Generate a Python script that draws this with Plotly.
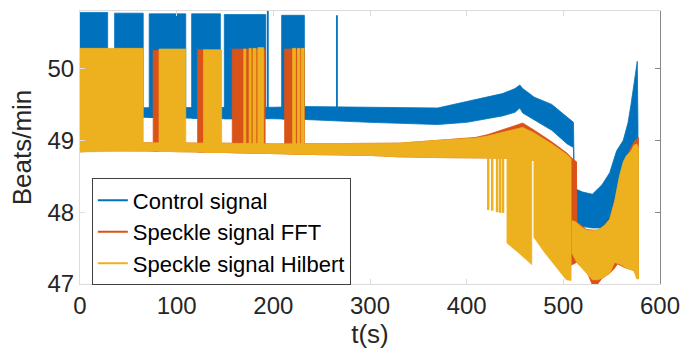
import plotly.graph_objects as go

BLUE = '#0072BD'
ORANGE = '#D95319'
YELLOW = '#EDB120'

# ---------------- data ----------------
x_ticks = [0, 100, 200, 300, 400, 500, 600]
y_ticks = [47, 48, 49, 50]
series_names = ['Control signal', 'Speckle signal FFT', 'Speckle signal Hilbert']

# Control signal: continuous band (time, lower envelope, upper envelope)
blue_t = [0, 65, 110, 150, 200, 232.1, 300, 370, 400, 437, 450, 455, 458, 470, 488, 504, 510.5,
          511.5, 520, 530, 540, 548, 555, 562, 567, 570, 573, 575, 576.5, 577.2]
blue_hi = [49.45, 49.45, 49.45, 49.46, 49.46, 49.47, 49.46, 49.45, 49.54, 49.65, 49.72, 49.77, 49.72, 49.60, 49.50, 49.33, 49.25,
           48.33, 48.28, 48.25, 48.38, 48.55, 48.85, 49.00, 49.25, 49.50, 49.80, 50.00, 50.10, 49.20]
blue_lo = [49.32, 49.32, 49.31, 49.30, 49.30, 49.29, 49.25, 49.22, 49.25, 49.34, 49.39, 49.45, 49.38, 49.28, 49.14, 48.95, 48.90,
           47.85, 47.80, 47.78, 47.78, 47.85, 47.95, 48.10, 48.25, 48.35, 48.45, 48.55, 48.60, 48.60]
# Control signal: high-oscillation blocks (start, end, top)
blue_blk_start = [0, 35.8, 71.6, 115.5, 149.3, 208.6]
blue_blk_end = [28.6, 65.4, 109.4, 145.2, 192.2, 232.1]
blue_blk_top = [50.78, 50.77, 50.76, 50.76, 50.75, 50.74]
# Control signal: isolated spikes (time, peak)
blue_spk_t = [194.3, 265.8]
blue_spk_top = [50.80, 50.74]

# Speckle FFT: band
fft_t = [0, 30, 65, 110, 150, 200, 250, 300, 330, 370, 409, 422, 440, 455, 458, 470, 488, 504, 508, 513.5]
fft_hi = [48.97, 48.97, 48.97, 48.96, 48.96, 48.95, 48.95, 48.95, 48.96, 49.00, 49.04, 49.08, 49.16, 49.22, 49.24, 49.14, 48.98, 48.82, 48.76, 48.70]
fft_lo = [48.84, 48.86, 48.85, 48.84, 48.83, 48.82, 48.80, 48.79, 48.77, 48.76, 48.76, 48.76, 48.75, 48.75, 48.75, 48.72, 48.70, 48.68, 47.80, 47.80]
# Speckle FFT: high blocks
fft_blk_start = [75.7, 121.7, 157.5, 211.7]
fft_blk_end = [81.8, 127.8, 191.5, 232.1]
fft_blk_top = [50.25, 50.26, 50.27, 50.27]
# Speckle FFT: deep section of the final dip
fft_dip_t = [508, 513.5, 514, 524, 530, 535, 540, 548, 553, 556, 565, 573, 577.7]
fft_dip_hi = [48.74, 48.70, 47.86, 47.76, 47.75, 47.75, 47.78, 47.90, 48.15, 48.30, 48.75, 48.98, 49.04]
fft_dip_lo = [47.26, 47.30, 47.30, 47.18, 46.99, 46.99, 47.08, 47.15, 47.22, 47.28, 47.22, 47.19, 47.08]

# Speckle Hilbert: band
hil_t = [0, 30, 65, 110, 150, 200, 250, 300, 330, 370, 409, 422, 440, 455, 458, 470, 488, 504, 508]
hil_hi = [48.97, 48.97, 48.97, 48.96, 48.96, 48.95, 48.95, 48.95, 48.96, 49.00, 49.03, 49.06, 49.12, 49.17, 49.18, 49.10, 48.95, 48.80, 48.74]
hil_lo = [48.84, 48.86, 48.85, 48.84, 48.83, 48.82, 48.80, 48.79, 48.77, 48.76, 48.76, 48.76, 48.75, 48.75, 48.75, 48.72, 48.70, 48.68, 48.66]
# Speckle Hilbert: high blocks
hil_blk_start = [0, 81.8, 127.8, 169.5, 175, 179, 184, 220, 225, 229]
hil_blk_end = [65.4, 109.4, 146.5, 171.5, 177, 182, 190, 223, 227.5, 231.8]
hil_blk_top = [50.28, 50.27, 50.26, 50.27, 50.28, 50.28, 50.29, 50.28, 50.28, 50.28]
# Speckle Hilbert: downward stripes
hil_str_t = [422.3, 426.4, 431.5, 434.6, 437.6]
hil_str_lo = [48.03, 48.02, 48.00, 47.99, 47.99]
# Speckle Hilbert: deep sections (lower envelopes)
hil_d1_t = [441.7, 455, 467.3]
hil_d1_lo = [47.57, 47.42, 47.27]
hil_d2_t = [469.6, 480, 490, 503, 508]
hil_d2_lo = [47.65, 47.45, 47.28, 47.06, 47.05]
hil_d3_t = [509, 512, 514, 520, 524, 530, 536, 543, 548, 553, 558, 562, 565, 570, 573, 576, 577.7]
hil_d3_hi = [47.88, 47.87, 47.85, 47.78, 47.75, 47.74, 47.75, 47.82, 47.90, 48.15, 48.50, 48.70, 48.78, 48.85, 48.93, 48.95, 48.90]
hil_d3_lo = [47.43, 47.35, 47.30, 47.22, 47.15, 47.06, 47.06, 47.10, 47.15, 47.30, 47.28, 47.25, 47.22, 47.20, 47.18, 47.07, 47.07]


def interp(t, ts, vs):
    for i in range(len(ts) - 1):
        if ts[i] <= t <= ts[i + 1]:
            f = (t - ts[i]) / (ts[i + 1] - ts[i])
            return vs[i] + f * (vs[i + 1] - vs[i])
    return vs[-1]


def band(t, lo, hi, color):
    x = list(t) + list(t)[::-1] + [t[0]]
    y = list(hi) + list(lo)[::-1] + [hi[0]]
    return go.Scatter(x=x, y=y, mode='lines', fill='toself', fillcolor=color,
                      line=dict(color=color, width=0.8), hoverinfo='skip', showlegend=False)


def blocks(starts, ends, tops, base_t, base_lo, color):
    xs, ys = [], []
    for s, e, top in zip(starts, ends, tops):
        b1 = interp(s, base_t, base_lo)
        b2 = interp(e, base_t, base_lo)
        xs += [s, s, e, e, s, None]
        ys += [b1, top, top, b2, b1, None]
    return go.Scatter(x=xs, y=ys, mode='lines', fill='toself', fillcolor=color,
                      line=dict(color=color, width=0.8), hoverinfo='skip', showlegend=False)


def spikes(ts, ends, base_t, base_v, color, width):
    xs, ys = [], []
    for t, e in zip(ts, ends):
        xs += [t, t, None]
        ys += [interp(t, base_t, base_v), e, None]
    return go.Scatter(x=xs, y=ys, mode='lines', line=dict(color=color, width=width),
                      hoverinfo='skip', showlegend=False)


def deep(ts, lo, top_t, top_v, color):
    hi = [interp(t, top_t, top_v) for t in ts]
    return band(ts, lo, hi, color)


fig = go.Figure()

# legend entries
for name, col in zip(series_names, [BLUE, ORANGE, YELLOW]):
    fig.add_trace(go.Scatter(x=[None], y=[None], mode='lines', name=name,
                             line=dict(color=col, width=2)))

# Control signal
fig.add_trace(band(blue_t, blue_lo, blue_hi, BLUE))
fig.add_trace(blocks(blue_blk_start, blue_blk_end, blue_blk_top, blue_t, blue_lo, BLUE))
fig.add_trace(spikes(blue_spk_t, blue_spk_top, blue_t, blue_lo, BLUE, 1.8))

# Speckle FFT
fig.add_trace(band(fft_t, fft_lo, fft_hi, ORANGE))
fig.add_trace(blocks(fft_blk_start, fft_blk_end, fft_blk_top, fft_t, fft_lo, ORANGE))
fig.add_trace(band(fft_dip_t, fft_dip_lo, fft_dip_hi, ORANGE))

# Speckle Hilbert
fig.add_trace(band(hil_t, hil_lo, hil_hi, YELLOW))
fig.add_trace(blocks(hil_blk_start, hil_blk_end, hil_blk_top, hil_t, hil_lo, YELLOW))
fig.add_trace(spikes(hil_str_t, hil_str_lo, hil_t, hil_hi, YELLOW, 2.5))
fig.add_trace(deep(hil_d1_t, hil_d1_lo, hil_t, hil_lo, YELLOW))
fig.add_trace(deep(hil_d2_t, hil_d2_lo, hil_t, hil_lo, YELLOW))
fig.add_trace(band(hil_d3_t, hil_d3_lo, hil_d3_hi, YELLOW))

# invisible trace for the right-hand axis
fig.add_trace(go.Scatter(x=[None], y=[None], yaxis='y2', showlegend=False, hoverinfo='skip'))

LIGHT = '#dcdcdc'
fig.update_layout(
    width=690, height=360,
    margin=dict(l=80, r=23, t=10, b=76),
    paper_bgcolor='white', plot_bgcolor='white',
    font=dict(family='Liberation Sans, Arial, sans-serif', color='#262626'),
    showlegend=True,
    legend=dict(x=0.0204, y=0.387, xanchor='left', yanchor='top',
                bgcolor='white', bordercolor='#404040', borderwidth=1,
                font=dict(size=22, color='#000000'), tracegroupgap=0,
                itemwidth=30),
    xaxis=dict(range=[0, 600], tickvals=x_ticks, ticks='inside', ticklen=5,
               tickcolor=LIGHT, showline=True, linecolor=LIGHT, linewidth=1,
               mirror='ticks', showgrid=False, zeroline=False,
               tickfont=dict(size=24, color='#262626'),
               title=dict(text='t(s)', font=dict(size=26, color='#262626'), standoff=6)),
    yaxis=dict(range=[47, 50.8], tickvals=y_ticks, ticks='inside', ticklen=5,
               tickcolor=LIGHT, showline=True, linecolor=LIGHT, linewidth=1,
               mirror='ticks', showgrid=False, zeroline=False,
               tickfont=dict(size=24, color='#262626'),
               title=dict(text='Beats/min', font=dict(size=26, color='#262626'), standoff=8)),
    yaxis2=dict(range=[47, 50.8], overlaying='y', side='right', tickvals=y_ticks,
                ticks='inside', ticklen=5, tickcolor='#8a8a8a', showline=True,
                linecolor='#8a8a8a', linewidth=1, showticklabels=False,
                showgrid=False, zeroline=False),
)

fig.write_html('out.html')
